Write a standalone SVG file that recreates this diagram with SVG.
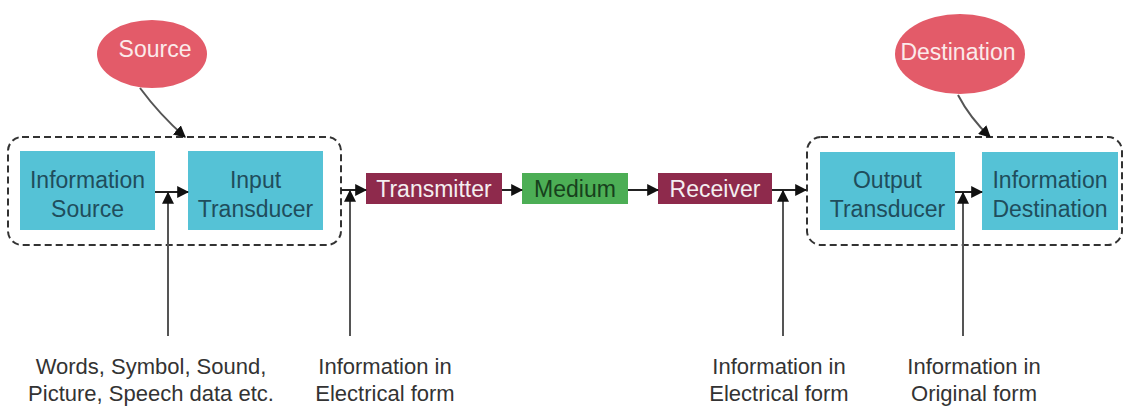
<svg xmlns="http://www.w3.org/2000/svg" width="1126" height="408" viewBox="0 0 1126 408">
<style>
text{font-family:"Liberation Sans",Arial,sans-serif;text-anchor:middle}
.cyan{fill:#55c2d6}
.ct{font-size:23px;fill:#1f4d5c}
.mar{fill:#8e2a4c}
.wt{font-size:23px;fill:#f4eef0}
.grn{fill:#4cae55}
.gt{font-size:23px;fill:#17401c}
.ell{fill:#e35b69}
.et{font-size:23px;fill:#fbeaea}
.lbl{font-size:22px;fill:#333}
.grp{fill:none;stroke:#333;stroke-width:2;stroke-dasharray:7 4}
.c{fill:none;stroke:#222;stroke-width:2}
.cg{fill:none;stroke:#555;stroke-width:2}
</style>
<defs>
<marker id="ah" viewBox="0 0 10 10" refX="9" refY="5" markerWidth="6" markerHeight="6" orient="auto" markerUnits="strokeWidth">
<path d="M0,0 L10,5 L0,10 z" fill="#111"/>
</marker>
</defs>
<g id="group-source"><rect class="grp" x="8" y="137" width="333" height="108" rx="14"/></g>
<g id="group-destination"><rect class="grp" x="807" y="137" width="315" height="108" rx="14"/></g>
<g id="source"><ellipse class="ell" cx="152" cy="54" rx="55" ry="34"/><text class="et" x="155" y="57">Source</text></g>
<g id="destination"><ellipse class="ell" cx="960" cy="54" rx="65" ry="40"/><text class="et" x="958" y="60">Destination</text></g>
<g id="information-source"><rect class="cyan" x="20" y="151" width="135" height="79"/><text class="ct" x="87.5" y="188">Information</text><text class="ct" x="87.5" y="217">Source</text></g>
<g id="input-transducer"><rect class="cyan" x="188" y="151" width="135" height="79"/><text class="ct" x="255.5" y="188">Input</text><text class="ct" x="255.5" y="217">Transducer</text></g>
<g id="transmitter"><rect class="mar" x="366" y="173" width="136" height="31"/><text class="wt" x="434" y="197">Transmitter</text></g>
<g id="medium"><rect class="grn" x="522" y="173" width="106" height="31"/><text class="gt" x="575" y="197">Medium</text></g>
<g id="receiver"><rect class="mar" x="658" y="173" width="114" height="31"/><text class="wt" x="715" y="197">Receiver</text></g>
<g id="output-transducer"><rect class="cyan" x="820" y="152" width="135" height="78"/><text class="ct" x="887.5" y="188">Output</text><text class="ct" x="887.5" y="217">Transducer</text></g>
<g id="information-destination"><rect class="cyan" x="982" y="152" width="136" height="78"/><text class="ct" x="1050" y="188">Information</text><text class="ct" x="1050" y="217">Destination</text></g>
<g id="label-words"><text class="lbl" x="151" y="374">Words, Symbol, Sound,</text><text class="lbl" x="151" y="401">Picture, Speech data etc.</text></g>
<g id="label-electrical-in"><text class="lbl" x="385" y="374">Information in</text><text class="lbl" x="385" y="401">Electrical form</text></g>
<g id="label-electrical-out"><text class="lbl" x="779" y="374">Information in</text><text class="lbl" x="779" y="401">Electrical form</text></g>
<g id="label-original"><text class="lbl" x="974" y="374">Information in</text><text class="lbl" x="974" y="401">Original form</text></g>
<g id="connectors">
<path class="cg" d="M140,88 Q160,115 185,137" marker-end="url(#ah)"/>
<path class="cg" d="M958,95 Q970,118 990,137" marker-end="url(#ah)"/>
<path class="c" d="M155,192 L188,192" marker-end="url(#ah)"/>
<path class="c" d="M341,190 L366,190" marker-end="url(#ah)"/>
<path class="c" d="M502,190 L522,190" marker-end="url(#ah)"/>
<path class="c" d="M628,190 L658,190" marker-end="url(#ah)"/>
<path class="c" d="M772,190 L806,190" marker-end="url(#ah)"/>
<path class="c" d="M955,192 L982,192" marker-end="url(#ah)"/>
<path class="cg" d="M168,336 L168,193" marker-end="url(#ah)"/>
<path class="cg" d="M350,336 L350,191" marker-end="url(#ah)"/>
<path class="cg" d="M783,336 L783,191" marker-end="url(#ah)"/>
<path class="cg" d="M963,336 L963,193" marker-end="url(#ah)"/>
</g>
</svg>
